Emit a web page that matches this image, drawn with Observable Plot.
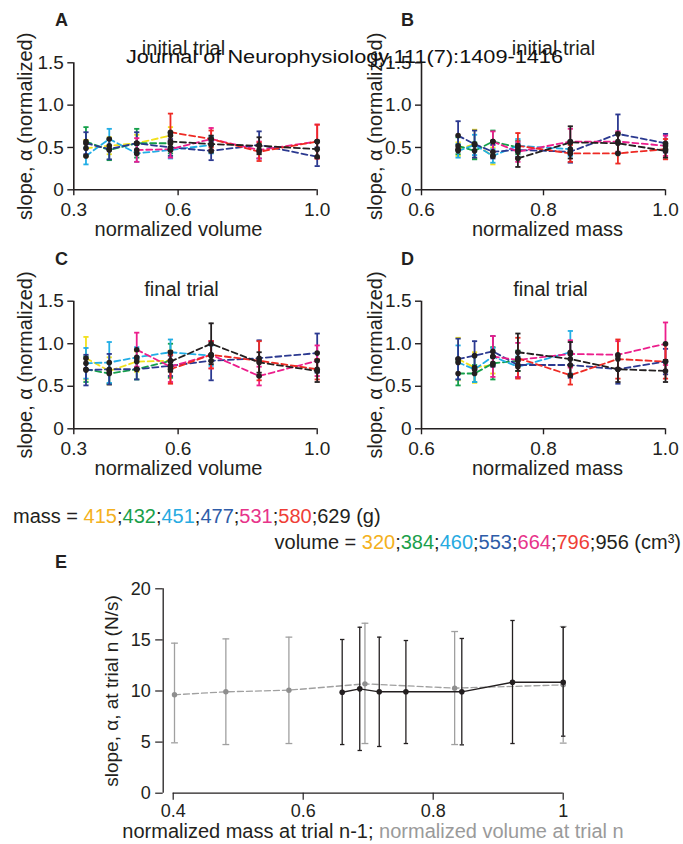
<!DOCTYPE html>
<html>
<head>
<meta charset="utf-8">
<script src="https://cdn.jsdelivr.net/npm/d3@7"></script>
<script src="https://cdn.jsdelivr.net/npm/@observablehq/plot@0.6"></script>
<style>
  html, body { margin: 0; padding: 0; background: #fff; }
  #fig { position: relative; width: 683px; height: 844px; overflow: hidden; background: #fff;
         font-family: "Liberation Sans", Arial, sans-serif; color: #231f20; }
  #fig svg { position: absolute; overflow: visible; }
</style>
</head>
<body>
<div id="fig"></div>
<script>
// ---------------- data ----------------
const massGrams = [415, 432, 451, 477, 531, 580, 629];
const volumeCm3 = [320, 384, 460, 553, 664, 796, 956];
const massNorm = [0.660, 0.687, 0.717, 0.758, 0.844, 0.922, 1.0];
const volumeNorm = [0.335, 0.402, 0.481, 0.578, 0.695, 0.833, 1.0];
const seriesColors = ["#f2e11c", "#14a04a", "#22aee6", "#2b3990", "#ec1e8c", "#ee2a24", "#231f20"];
const legendColors = ["#f4b120", "#1a9f4b", "#27aae1", "#2e5ca8", "#e7338a", "#ef3e36", "#231f20"];

const topYTicks = [0, 0.5, 1.0, 1.5];
const volumeTicks = [0.3, 0.6, 1.0];
const massTicks = [0.6, 0.8, 1.0];

// A: initial trial, x = normalized volume, one series per mass
const initialByVolume = [
  [0.49, 0.52, 0.55, 0.64, null, null, null],
  [0.57, 0.47, 0.55, 0.55, null, null, null],
  [0.40, 0.60, 0.43, 0.47, 0.53, null, null],
  [0.55, 0.48, 0.55, 0.50, 0.46, 0.53, 0.39],
  [null, null, 0.47, 0.48, 0.60, 0.47, 0.57],
  [null, null, null, 0.68, 0.60, 0.45, 0.57],
  [null, null, null, 0.57, 0.54, 0.52, 0.48]
];
const initialByVolumeErr = [
  [0.10, 0.10, 0.10, 0.10, null, null, null],
  [0.17, 0.12, 0.17, 0.12, null, null, null],
  [0.10, 0.12, 0.10, 0.10, 0.10, null, null],
  [0.13, 0.12, 0.13, 0.10, 0.11, 0.16, 0.11],
  [null, null, 0.14, 0.10, 0.13, 0.10, 0.20],
  [null, null, null, 0.22, 0.10, 0.11, 0.20],
  [null, null, null, 0.10, 0.10, 0.10, 0.10]
];
// B: initial trial, x = normalized mass, one series per volume
const initialByMass = [
  [0.48, 0.54, 0.40, null, null, null, null],
  [0.52, 0.46, 0.57, 0.50, null, null, null],
  [0.46, 0.53, 0.40, 0.52, 0.48, null, null],
  [0.64, 0.54, 0.45, 0.47, 0.45, 0.66, 0.55],
  [null, null, 0.57, 0.45, 0.57, 0.57, 0.52],
  [null, null, null, 0.52, 0.43, 0.43, 0.48],
  [null, null, null, 0.37, 0.56, 0.55, 0.46]
];
const initialByMassErr = [
  [0.08, 0.17, 0.10, null, null, null, null],
  [0.10, 0.10, 0.13, 0.08, null, null, null],
  [0.08, 0.12, 0.08, 0.08, 0.08, null, null],
  [0.17, 0.16, 0.08, 0.08, 0.13, 0.23, 0.11],
  [null, null, 0.12, 0.12, 0.15, 0.12, 0.12],
  [null, null, null, 0.15, 0.10, 0.12, 0.12],
  [null, null, null, 0.10, 0.19, 0.12, 0.08]
];
// C: final trial, x = normalized volume
const finalByVolume = [
  [0.83, 0.68, 0.79, 0.80, null, null, null],
  [0.70, 0.65, 0.70, 0.80, null, null, null],
  [0.77, 0.78, 0.84, 0.90, 0.86, null, null],
  [0.69, 0.70, 0.70, 0.74, 0.80, 0.83, 0.89],
  [null, null, 0.93, 0.73, 0.87, 0.62, 0.80],
  [null, null, null, 0.70, 0.87, 0.80, 0.70],
  [null, null, null, 0.79, 1.00, 0.78, 0.68]
];
const finalByVolumeErr = [
  [0.25, 0.16, 0.12, 0.12, null, null, null],
  [0.15, 0.12, 0.12, 0.20, null, null, null],
  [0.18, 0.24, 0.12, 0.15, 0.12, null, null],
  [0.18, 0.18, 0.12, 0.12, 0.23, 0.21, 0.23],
  [null, null, 0.20, 0.18, 0.16, 0.11, 0.18],
  [null, null, null, 0.17, 0.16, 0.23, 0.12],
  [null, null, null, 0.12, 0.24, 0.12, 0.13]
];
// D: final trial, x = normalized mass
const finalByMass = [
  [0.82, 0.72, 0.75, null, null, null, null],
  [0.65, 0.65, 0.77, 0.80, null, null, null],
  [0.78, 0.70, 0.85, 0.73, 0.90, null, null],
  [0.82, 0.86, 0.91, 0.75, 0.75, 0.70, 0.79],
  [null, null, 0.85, 0.81, 0.88, 0.87, 1.00],
  [null, null, null, 0.83, 0.63, 0.82, 0.79],
  [null, null, null, 0.90, 0.82, 0.70, 0.68]
];
const finalByMassErr = [
  [0.25, 0.18, 0.10, null, null, null, null],
  [0.14, 0.10, 0.19, 0.12, null, null, null],
  [0.20, 0.15, 0.10, 0.12, 0.25, null, null],
  [0.24, 0.17, 0.18, 0.15, 0.15, 0.17, 0.15],
  [null, null, 0.24, 0.20, 0.16, 0.16, 0.25],
  [null, null, null, 0.24, 0.11, 0.23, 0.20],
  [null, null, null, 0.22, 0.20, 0.15, 0.13]
];

// E: absolute slope at trial n
const eXTicks = [0.4, 0.6, 0.8, 1];
const eYTicks = [0, 5, 10, 15, 20];
const eMassX = massNorm;
const eMassSlope = [9.88, 10.21, 9.92, 9.92, 9.92, 10.86, 10.86];
const eMassLow = [4.76, 4.18, 4.57, 4.86, 4.73, 4.86, 5.58];
const eMassHigh = [15.04, 16.24, 15.27, 14.94, 15.14, 16.90, 16.24];
const eVolX = volumeNorm.slice(1);
const eVolSlope = [9.63, 9.92, 10.08, 10.70, 10.28, 10.60];
const eVolLow = [4.93, 4.76, 4.86, 4.86, 4.76, 4.90];
const eVolHigh = [14.68, 15.10, 15.27, 16.63, 15.82, 16.31];

// ---------------- drawing ----------------
const FONT = '"Liberation Sans", Arial, sans-serif';
const INK = "#231f20";
const fig = document.getElementById("fig");
const capSym = { draw(ctx, size) { const w = Math.sqrt(size / Math.PI); ctx.moveTo(-w, 0); ctx.lineTo(w, 0); } };

function rowsOf(values, errs, xs) {
  return values.map((ys, s) => ys.map((y, i) => y == null ? null :
    { s, x: xs[i], y, lo: y - errs[s][i], hi: y + errs[s][i] }).filter(d => d));
}

function place(node, left, top) {
  node.style.left = left + "px";
  node.style.top = top + "px";
  fig.appendChild(node);
}

function topPanel(o) {
  const series = rowsOf(o.values, o.errs, o.xs);
  const marks = [];
  series.forEach((rows, s) => {
    const c = seriesColors[s];
    marks.push(
      Plot.ruleX(rows, { x: "x", y1: "lo", y2: "hi", stroke: c, strokeWidth: 1.8 }),
      Plot.dot(rows, { x: "x", y: "lo", symbol: capSym, r: 2.6, stroke: c, fill: "none", strokeWidth: 1.8 }),
      Plot.dot(rows, { x: "x", y: "hi", symbol: capSym, r: 2.6, stroke: c, fill: "none", strokeWidth: 1.8 }),
      Plot.line(rows, { x: "x", y: "y", stroke: c, strokeWidth: 1.8, strokeDasharray: "6,3.5" })
    );
  });
  marks.push(Plot.dot(series.flat(), { x: "x", y: "y", r: 2.8, fill: INK, stroke: "none" }));
  marks.push(
    Plot.ruleY([0], { stroke: INK, strokeWidth: 1.6 }),
    Plot.ruleX([o.xDomain[0]], { stroke: INK, strokeWidth: 1.6 }),
    Plot.axisX({ ticks: o.xTicks, tickFormat: d3.format(".1f"), tickSize: 6, tickPadding: 7, strokeWidth: 1.4, label: null, fontSize: 19 }),
    Plot.axisY({ ticks: topYTicks, tickFormat: d => d === 0 ? "0" : d.toFixed(1), tickSize: 6, tickPadding: 4, strokeWidth: 1.4, label: null, fontSize: 19 }),
    Plot.text([o.title], { frameAnchor: "top", textAnchor: "middle", lineAnchor: "middle", dy: o.titleDy, dx: o.titleDx, fontSize: 20, fill: INK }),
    Plot.text([o.xLabel], { frameAnchor: "bottom", textAnchor: "middle", lineAnchor: "middle", dy: 40, dx: o.labelDx, fontSize: 20, fill: INK }),
    Plot.text(["slope, \u03b1 (normalized)"], { frameAnchor: "left", textAnchor: "middle", lineAnchor: "middle", rotate: -90, dx: o.yLabelDx, fontSize: 20, fill: INK })
  );
  return Plot.plot({
    width: o.width, height: o.height,
    marginLeft: o.ml, marginRight: o.mr, marginTop: o.mt, marginBottom: o.mb,
    x: { domain: o.xDomain, axis: null },
    y: { domain: [0, 1.5], axis: null },
    style: { fontFamily: FONT, fontSize: "19px", color: INK, background: "transparent", overflow: "visible" },
    marks
  });
}

place(topPanel({ values: initialByVolume, errs: initialByVolumeErr, xs: volumeNorm, xDomain: [0.3, 1.0], xTicks: volumeTicks,
  title: "initial trial", xLabel: "normalized volume", width: 341, height: 250, ml: 73.3, mr: 24.3, mt: 62.3, mb: 60.7,
  titleDy: -14.7, titleDx: -12, labelDx: -17, yLabelDx: -48.7 }), 0, 0);
place(topPanel({ values: initialByMass, errs: initialByMassErr, xs: massNorm, xDomain: [0.6, 1.0], xTicks: massTicks,
  title: "initial trial", xLabel: "normalized mass", width: 342, height: 250, ml: 80, mr: 18, mt: 62.3, mb: 60.7,
  titleDy: -14.7, titleDx: 10, labelDx: 4, yLabelDx: -46 }), 341, 0);
place(topPanel({ values: finalByVolume, errs: finalByVolumeErr, xs: volumeNorm, xDomain: [0.3, 1.0], xTicks: volumeTicks,
  title: "final trial", xLabel: "normalized volume", width: 341, height: 240, ml: 73.3, mr: 24.3, mt: 50.7, mb: 61.7,
  titleDy: -12.1, titleDx: -14, labelDx: -17, yLabelDx: -48.7 }), 0, 250);
place(topPanel({ values: finalByMass, errs: finalByMassErr, xs: massNorm, xDomain: [0.6, 1.0], xTicks: massTicks,
  title: "final trial", xLabel: "normalized mass", width: 342, height: 240, ml: 80, mr: 18, mt: 50.7, mb: 61.7,
  titleDy: -12.1, titleDx: 7, labelDx: 4, yLabelDx: -46 }), 341, 250);

// Panel E
const eMassRows = eMassX.map((x, i) => ({ x, y: eMassSlope[i], lo: eMassLow[i], hi: eMassHigh[i] }));
const eVolRows = eVolX.map((x, i) => ({ x, y: eVolSlope[i], lo: eVolLow[i], hi: eVolHigh[i] }));
const GRAY = "#a0a0a0";
const eXMin = d3.min(eXTicks), eXMax = d3.max(eXTicks);
const eXDomain = [eXMin - 10 / 650, eXMax];
const plotE = Plot.plot({
  width: 683, height: 284,
  marginLeft: 162.7, marginRight: 120.3, marginTop: 28.3, marginBottom: 51.3,
  x: { domain: eXDomain, axis: null },
  y: { domain: [0, 20], axis: null },
  style: { fontFamily: FONT, fontSize: "18px", color: INK, background: "transparent", overflow: "visible" },
  marks: [
    Plot.ruleX(eVolRows, { x: "x", y1: "lo", y2: "hi", stroke: GRAY, strokeWidth: 1.3 }),
    Plot.dot(eVolRows, { x: "x", y: "lo", symbol: capSym, r: 3.4, stroke: GRAY, fill: "none", strokeWidth: 1.3 }),
    Plot.dot(eVolRows, { x: "x", y: "hi", symbol: capSym, r: 3.4, stroke: GRAY, fill: "none", strokeWidth: 1.3 }),
    Plot.line(eVolRows, { x: "x", y: "y", stroke: GRAY, strokeWidth: 1.3, strokeDasharray: "6,3" }),
    Plot.dot(eVolRows, { x: "x", y: "y", r: 2.7, fill: "#8e8e8e", stroke: "none" }),
    Plot.ruleX(eMassRows, { x: "x", y1: "lo", y2: "hi", stroke: INK, strokeWidth: 1.3 }),
    Plot.dot(eMassRows, { x: "x", y: "lo", symbol: capSym, r: 2.2, stroke: INK, fill: "none", strokeWidth: 1.3 }),
    Plot.dot(eMassRows, { x: "x", y: "hi", symbol: capSym, r: 2.2, stroke: INK, fill: "none", strokeWidth: 1.3 }),
    Plot.line(eMassRows, { x: "x", y: "y", stroke: INK, strokeWidth: 1.4 }),
    Plot.dot(eMassRows, { x: "x", y: "y", r: 2.8, fill: INK, stroke: "none" }),
    Plot.ruleY([0], { x1: eXMin, x2: eXMax, stroke: INK, strokeWidth: 1.3 }),
    Plot.ruleX([eXDomain[0]], { y1: 0, y2: d3.max(eYTicks), stroke: INK, strokeWidth: 1.3 }),
    Plot.axisX({ ticks: eXTicks, tickFormat: d => d === 1 ? "1" : d.toFixed(1), tickSize: 7, tickPadding: 4.5, strokeWidth: 1.2, label: null, fontSize: 18 }),
    Plot.axisY({ ticks: eYTicks, tickFormat: d => String(d), tickSize: 7.5, tickPadding: 5, strokeWidth: 1.2, label: null, fontSize: 18 }),
    Plot.text(["slope, \u03b1, at trial n (N/s)"], { frameAnchor: "left", textAnchor: "middle", lineAnchor: "middle", rotate: -90, dx: -51.7, fontSize: 19, fill: INK })
  ]
});
place(plotE, 0, 560);

// ---------------- overlay texts ----------------
const ov = d3.create("svg").attr("width", 683).attr("height", 844)
  .style("font-family", FONT).style("pointer-events", "none").style("white-space", "pre");
[["A", 55, 26], ["B", 401, 26], ["C", 55, 265], ["D", 401, 265], ["E", 55, 568]].forEach(([t, x, y]) => {
  ov.append("text").attr("x", x).attr("y", y).attr("font-size", 18).attr("font-weight", "bold").attr("fill", INK).text(t);
});
ov.append("text").attr("x", 126).attr("y", 63).attr("font-size", 19).attr("fill", "#111")
  .attr("textLength", 437).attr("lengthAdjust", "spacingAndGlyphs")
  .text("Journal of Neurophysiology,111(7):1409-1416");

function legendLine(prefix, values, suffix, x, y, anchor) {
  const t = ov.append("text").attr("x", x).attr("y", y).attr("font-size", 20).attr("text-anchor", anchor).attr("fill", INK);
  t.append("tspan").text(prefix);
  values.forEach((v, i) => {
    t.append("tspan").attr("fill", legendColors[i]).text(String(v));
    if (i < values.length - 1) t.append("tspan").attr("fill", INK).text(";");
  });
  t.append("tspan").attr("fill", INK).text(suffix);
}
legendLine("mass = ", massGrams, " (g)", 13, 523, "start");
legendLine("volume = ", volumeCm3, " (cm\u00b3)", 681, 549, "end");

const xl = ov.append("text").attr("x", 373).attr("y", 838).attr("font-size", 20).attr("text-anchor", "middle");
xl.append("tspan").attr("fill", INK).text("normalized mass at trial n-1; ");
xl.append("tspan").attr("fill", "#9a9a9a").text("normalized volume at trial n");
place(ov.node(), 0, 0);
</script>
</body>
</html>
